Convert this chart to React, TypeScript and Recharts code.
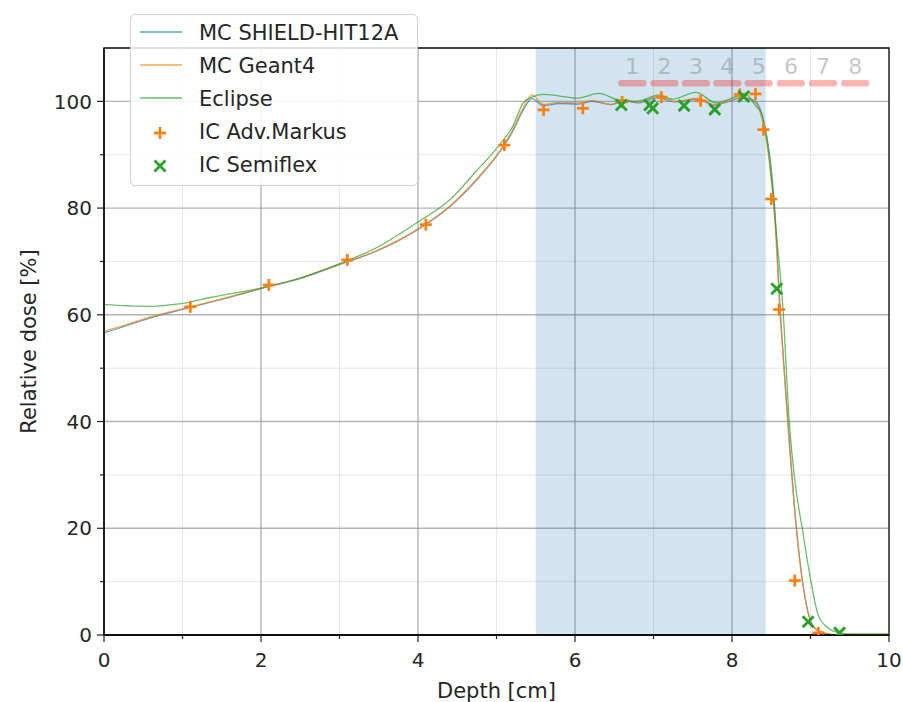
import React from "react";
import {
  ComposedChart,
  Line,
  Scatter,
  XAxis,
  YAxis,
  CartesianGrid,
  ReferenceArea,
} from "recharts";

// Depth-dose curves (depth in cm, dose in %)
const depthMC = [
  0, 0.25, 0.5, 0.75, 1.0, 1.5, 2.0, 2.5, 3.0, 3.5, 4.0, 4.4, 4.75, 5.05, 5.2,
  5.35, 5.45, 5.6, 5.8, 6.05, 6.22, 6.46, 6.63, 6.8, 7.05, 7.27, 7.56, 7.77,
  7.98, 8.11, 8.24, 8.32, 8.4, 8.48, 8.54, 8.61, 8.71, 8.82, 8.9, 8.97, 9.05,
  9.2, 9.35, 10,
];
const shieldDose = [
  56.6, 57.8, 59.0, 60.1, 61.0, 62.9, 64.9, 66.8, 69.4, 72.1, 76.0, 80.2, 85.3,
  90.7, 94.2, 98.6, 100.5, 99.2, 99.6, 99.5, 100.0, 99.4, 100.1, 99.7, 100.7,
  99.9, 100.4, 99.3, 100.1, 100.6, 100.4, 99.7, 96.5, 90.0, 81.0, 62.0, 40.5,
  20.2, 9.9, 4.2, 1.3, 0.3, 0.0, 0.0,
];
const geantDose = [
  56.9, 58.0, 59.2, 60.2, 61.1, 63.0, 65.0, 66.9, 69.5, 72.2, 76.1, 80.3, 85.5,
  90.9, 94.5, 99.1, 101.2, 99.4, 99.8, 99.7, 100.2, 99.4, 100.3, 99.8, 100.9,
  100.0, 100.6, 99.4, 100.2, 100.9, 100.3, 99.3, 95.5, 88.0, 79.0, 61.0, 39.8,
  19.8, 9.7, 4.1, 1.3, 0.3, 0.0, 0.0,
];
const depthEclipse = [
  0, 0.3, 0.58, 0.8, 1.03, 1.34, 2.0, 2.5, 3.0, 3.5, 3.77, 4.0, 4.41, 4.74,
  5.04, 5.21, 5.34, 5.45, 5.59, 5.8, 6.02, 6.31, 6.54, 6.78, 7.08, 7.24, 7.54,
  7.8, 8.0, 8.16, 8.31, 8.37, 8.43, 8.5, 8.56, 8.65, 8.73, 8.8, 8.9, 9.01, 9.09,
  9.2, 9.37, 9.5, 10,
];
const eclipseDose = [
  61.9, 61.7, 61.6, 61.8, 62.2, 63.2, 65.0, 66.9, 69.6, 72.8, 75.2, 77.4, 81.6,
  86.9, 91.9, 95.4, 99.7, 100.8, 101.3, 101.0, 100.6, 101.5, 100.3, 100.0,
  101.2, 100.4, 101.7, 99.7, 100.6, 101.5, 99.0, 97.9, 94.2, 86.0, 76.0, 61.0,
  39.8, 29.0, 19.5, 9.7, 4.1, 1.6, 0.4, 0.2, 0.2,
];

// Ionisation chamber measurements
const markusDepth = [
  1.1, 2.1, 3.1, 4.1, 5.1, 5.6, 6.1, 6.6, 7.1, 7.6, 8.1, 8.3, 8.4, 8.5, 8.6,
  8.8, 9.1,
];
const markusDose = [
  61.5, 65.6, 70.3, 76.9, 91.8, 98.4, 98.7, 99.9, 100.8, 100.1, 101.3, 101.4,
  94.7, 81.7, 61.0, 10.2, 0.4,
];
const semiflexDepth = [6.59, 6.95, 6.99, 7.39, 7.78, 8.15, 8.57, 8.97, 9.37];
const semiflexDose = [99.3, 99.3, 98.7, 99.2, 98.5, 100.9, 64.9, 2.5, 0.4];

// SOBP region and detector segments
const sobpRange = [5.5, 8.43];
const segmentLabels = ["1", "2", "3", "4", "5", "6", "7", "8"];
const segmentStart = [6.55, 6.96, 7.36, 7.76, 8.16, 8.57, 8.98, 9.39];
const segmentWidth = 0.36;
const segmentLevel = 103.4;
const segmentLabelLevel = 105.1;

const xTicks = [0, 1, 2, 3, 4, 5, 6, 7, 8, 9, 10];
const yTicks = [0, 10, 20, 30, 40, 50, 60, 70, 80, 90, 100];

const toPoints = (xs: number[], ys: number[]) =>
  xs.map((x, i) => ({ x, y: ys[i] }));

const shieldData = toPoints(depthMC, shieldDose);
const geantData = toPoints(depthMC, geantDose);
const eclipseData = toPoints(depthEclipse, eclipseDose);
const markusData = toPoints(markusDepth, markusDose);
const semiflexData = toPoints(semiflexDepth, semiflexDose);
const segmentLabelData = segmentLabels.map((label, i) => ({
  x: segmentStart[i] + segmentWidth / 2,
  y: segmentLabelLevel,
  label,
}));

const FONT = "'DejaVu Sans', sans-serif";
const TEXT = "#262626";
const BLUE = "#1f77b4";
const ORANGE = "#ff7f0e";
const GREEN = "#2ca02c";

const YTick = (props: any) => {
  const { x, y, payload } = props;
  const major = payload.value % 20 === 0;
  return (
    <g>
      <line x1={x} x2={x - (major ? 7 : 4)} y1={y} y2={y} stroke="#222" strokeWidth={1.2} />
      {major && (
        <text x={x - 12} y={y} dy="0.36em" textAnchor="end" fontSize={20} fontFamily={FONT} fill={TEXT}>
          {payload.value}
        </text>
      )}
    </g>
  );
};

const XTick = (props: any) => {
  const { x, y, payload } = props;
  const major = payload.value % 2 === 0;
  return (
    <g>
      <line x1={x} x2={x} y1={y} y2={y + (major ? 7 : 4)} stroke="#222" strokeWidth={1.2} />
      {major && (
        <text x={x} y={y + 32} textAnchor="middle" fontSize={20} fontFamily={FONT} fill={TEXT}>
          {payload.value}
        </text>
      )}
    </g>
  );
};

const PlusMark = (props: any) => {
  const { cx, cy } = props;
  const s = 6;
  return (
    <g stroke={ORANGE} strokeWidth={2.7}>
      <line x1={cx - s} x2={cx + s} y1={cy} y2={cy} />
      <line x1={cx} x2={cx} y1={cy - s} y2={cy + s} />
    </g>
  );
};

const CrossMark = (props: any) => {
  const { cx, cy } = props;
  const s = 5.5;
  return (
    <g stroke={GREEN} strokeWidth={2.9}>
      <line x1={cx - s} x2={cx + s} y1={cy - s} y2={cy + s} />
      <line x1={cx - s} x2={cx + s} y1={cy + s} y2={cy - s} />
    </g>
  );
};

const SegmentLabel = (props: any) => {
  const { cx, cy, payload } = props;
  return (
    <text x={cx} y={cy} textAnchor="middle" fontSize={22} fontFamily={FONT} fill="#808080" fillOpacity={0.45}>
      {payload.label}
    </text>
  );
};

const legendItems = [
  { name: "MC SHIELD-HIT12A", kind: "line", color: BLUE },
  { name: "MC Geant4", kind: "line", color: ORANGE },
  { name: "Eclipse", kind: "line", color: GREEN },
  { name: "IC Adv.Markus", kind: "plus", color: ORANGE },
  { name: "IC Semiflex", kind: "cross", color: GREEN },
];

function LegendBox() {
  return (
    <div
      style={{
        position: "absolute",
        left: 130,
        top: 14,
        width: 286,
        height: 170,
        border: "1px solid #d0d0d0",
        borderRadius: 5,
        background: "rgba(255,255,255,0.85)",
      }}
    >
      <svg width={286} height={170}>
        {legendItems.map((item, i) => {
          const cy = 17 + i * 33;
          return (
            <g key={item.name}>
              {item.kind === "line" && (
                <line x1={9} x2={51} y1={cy} y2={cy} stroke={item.color} strokeOpacity={0.7} strokeWidth={1.4} />
              )}
              {item.kind === "plus" && <PlusMark cx={29} cy={cy + 2} />}
              {item.kind === "cross" && <CrossMark cx={29} cy={cy + 2} />}
              <text x={68} y={cy} dy="0.36em" fontSize={21} fontFamily={FONT} fill={TEXT}>
                {item.name}
              </text>
            </g>
          );
        })}
      </svg>
    </div>
  );
}

export default function App() {
  return (
    <div style={{ position: "absolute", left: 0, top: 0, width: 903, height: 702, background: "#fff" }}>
      <ComposedChart width={903} height={702} margin={{ top: 48, right: 14, bottom: 0, left: 0 }}>
        <ReferenceArea x1={sobpRange[0]} x2={sobpRange[1]} y1={0} y2={110} fill={BLUE} fillOpacity={0.2} stroke="none" />
        <CartesianGrid
          horizontalValues={[10, 30, 50, 70, 90]}
          verticalValues={[1, 3, 5, 7, 9]}
          stroke="#b0b0b0"
          strokeOpacity={0.3}
          strokeWidth={1}
        />
        <CartesianGrid
          horizontalValues={[20, 40, 60, 80, 100]}
          verticalValues={[2, 4, 6, 8]}
          stroke="#9a9a9a"
          strokeOpacity={0.75}
          strokeWidth={1.4}
        />
        {segmentStart.map((s, i) => (
          <ReferenceArea
            key={segmentLabels[i]}
            x1={s}
            x2={s + segmentWidth}
            y1={segmentLevel - 0.6}
            y2={segmentLevel + 0.6}
            fill="#ff0000"
            fillOpacity={0.3}
            stroke="none"
            radius={3}
          />
        ))}
        <ReferenceArea x1={0} x2={10} y1={0} y2={110} fill="none" stroke="#000" strokeWidth={1.3} />
        <XAxis
          dataKey="x"
          type="number"
          domain={[0, 10]}
          ticks={xTicks}
          interval={0}
          height={67}
          tickSize={0}
          tickMargin={0}
          tickLine={false}
          tick={<XTick />}
          axisLine={{ stroke: "#000", strokeWidth: 1.3 }}
          allowDataOverflow
          label={{ value: "Depth [cm]", position: "insideBottom", offset: 4, fontSize: 21, fontFamily: FONT, fill: TEXT }}
        />
        <YAxis
          dataKey="y"
          type="number"
          domain={[0, 110]}
          ticks={yTicks}
          interval={0}
          width={104}
          tickSize={0}
          tickMargin={0}
          tickLine={false}
          tick={<YTick />}
          axisLine={{ stroke: "#000", strokeWidth: 1.3 }}
          allowDataOverflow
          label={(props: any) => {
            const vb = props.viewBox;
            const cx = vb.x + 28;
            const cy = vb.y + vb.height / 2;
            return (
              <text
                x={cx}
                y={cy}
                transform={`rotate(-90 ${cx} ${cy})`}
                textAnchor="middle"
                dy="0.36em"
                fontSize={21}
                fontFamily={FONT}
                fill={TEXT}
              >
                Relative dose [%]
              </text>
            );
          }}
        />
        <Line data={shieldData} dataKey="y" type="monotone" stroke={BLUE} strokeOpacity={0.7} strokeWidth={1.3} dot={false} isAnimationActive={false} />
        <Line data={geantData} dataKey="y" type="monotone" stroke={ORANGE} strokeOpacity={0.7} strokeWidth={1.3} dot={false} isAnimationActive={false} />
        <Line data={eclipseData} dataKey="y" type="monotone" stroke={GREEN} strokeOpacity={0.7} strokeWidth={1.3} dot={false} isAnimationActive={false} />
        <Scatter data={markusData} dataKey="y" shape={<PlusMark />} isAnimationActive={false} />
        <Scatter data={semiflexData} dataKey="y" shape={<CrossMark />} isAnimationActive={false} />
        <Scatter data={segmentLabelData} dataKey="y" shape={<SegmentLabel />} isAnimationActive={false} />
      </ComposedChart>
      <LegendBox />
    </div>
  );
}
